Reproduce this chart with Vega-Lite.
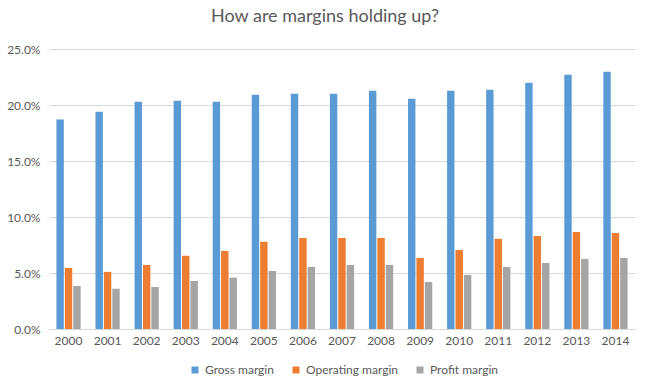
{
  "$schema": "https://vega.github.io/schema/vega-lite/v6.json",
  "width": 586,
  "height": 280,
  "autosize": "none",
  "padding": {"left": 49, "top": 49, "right": 16, "bottom": 63},
  "background": "white",
  "title": {
    "text": "How are margins holding up?",
    "font": "Lato",
    "fontSize": 18,
    "fontWeight": "normal",
    "color": "#595959",
    "anchor": "middle",
    "offset": 17,
    "dx": -17
  },
  "data": {
    "values": [
      {"year": "2000", "series": "Gross margin", "value": 0.187},
      {"year": "2000", "series": "Operating margin", "value": 0.0545},
      {"year": "2000", "series": "Profit margin", "value": 0.0384},
      {"year": "2001", "series": "Gross margin", "value": 0.194},
      {"year": "2001", "series": "Operating margin", "value": 0.051},
      {"year": "2001", "series": "Profit margin", "value": 0.036},
      {"year": "2002", "series": "Gross margin", "value": 0.203},
      {"year": "2002", "series": "Operating margin", "value": 0.0572},
      {"year": "2002", "series": "Profit margin", "value": 0.0375},
      {"year": "2003", "series": "Gross margin", "value": 0.2038},
      {"year": "2003", "series": "Operating margin", "value": 0.0653},
      {"year": "2003", "series": "Profit margin", "value": 0.0429},
      {"year": "2004", "series": "Gross margin", "value": 0.203},
      {"year": "2004", "series": "Operating margin", "value": 0.0697},
      {"year": "2004", "series": "Profit margin", "value": 0.0459},
      {"year": "2005", "series": "Gross margin", "value": 0.2092},
      {"year": "2005", "series": "Operating margin", "value": 0.0778},
      {"year": "2005", "series": "Profit margin", "value": 0.0518},
      {"year": "2006", "series": "Gross margin", "value": 0.21},
      {"year": "2006", "series": "Operating margin", "value": 0.0813},
      {"year": "2006", "series": "Profit margin", "value": 0.0554},
      {"year": "2007", "series": "Gross margin", "value": 0.21},
      {"year": "2007", "series": "Operating margin", "value": 0.0813},
      {"year": "2007", "series": "Profit margin", "value": 0.0572},
      {"year": "2008", "series": "Gross margin", "value": 0.2128},
      {"year": "2008", "series": "Operating margin", "value": 0.0813},
      {"year": "2008", "series": "Profit margin", "value": 0.0572},
      {"year": "2009", "series": "Gross margin", "value": 0.2056},
      {"year": "2009", "series": "Operating margin", "value": 0.0635},
      {"year": "2009", "series": "Profit margin", "value": 0.042},
      {"year": "2010", "series": "Gross margin", "value": 0.2128},
      {"year": "2010", "series": "Operating margin", "value": 0.0706},
      {"year": "2010", "series": "Profit margin", "value": 0.0483},
      {"year": "2011", "series": "Gross margin", "value": 0.2136},
      {"year": "2011", "series": "Operating margin", "value": 0.0805},
      {"year": "2011", "series": "Profit margin", "value": 0.0554},
      {"year": "2012", "series": "Gross margin", "value": 0.2199},
      {"year": "2012", "series": "Operating margin", "value": 0.0831},
      {"year": "2012", "series": "Profit margin", "value": 0.059},
      {"year": "2013", "series": "Gross margin", "value": 0.227},
      {"year": "2013", "series": "Operating margin", "value": 0.0867},
      {"year": "2013", "series": "Profit margin", "value": 0.0626},
      {"year": "2014", "series": "Gross margin", "value": 0.2297},
      {"year": "2014", "series": "Operating margin", "value": 0.0858},
      {"year": "2014", "series": "Profit margin", "value": 0.0635}
    ]
  },
  "mark": {"type": "bar"},
  "encoding": {
    "x": {
      "field": "year",
      "type": "nominal",
      "scale": {"paddingInner": 0.38, "paddingOuter": 0.19},
      "axis": {
        "title": null,
        "labelAngle": 0,
        "labelFont": "Lato",
        "labelFontSize": 12,
        "labelColor": "#595959",
        "labelPadding": 6,
        "ticks": false,
        "domainColor": "#d9d9d9",
        "grid": false
      }
    },
    "xOffset": {
      "field": "series",
      "type": "nominal",
      "sort": ["Gross margin", "Operating margin", "Profit margin"],
      "scale": {"paddingInner": 0.12}
    },
    "y": {
      "field": "value",
      "type": "quantitative",
      "scale": {"domain": [0, 0.25]},
      "axis": {
        "title": null,
        "format": ".1%",
        "values": [0, 0.05, 0.1, 0.15, 0.2, 0.25],
        "labelFont": "Lato",
        "labelFontSize": 12,
        "labelColor": "#595959",
        "labelPadding": 9,
        "ticks": false,
        "domain": false,
        "gridColor": "#d9d9d9",
        "gridWidth": 1
      }
    },
    "color": {
      "field": "series",
      "type": "nominal",
      "sort": ["Gross margin", "Operating margin", "Profit margin"],
      "scale": {
        "domain": ["Gross margin", "Operating margin", "Profit margin"],
        "range": ["#5B9BD5", "#ED7D31", "#A5A5A5"]
      },
      "legend": {
        "title": null,
        "orient": "none",
        "direction": "horizontal",
        "legendX": 140,
        "legendY": 315,
        "symbolType": "square",
        "symbolSize": 49,
        "symbolStrokeWidth": 0,
        "labelFont": "Lato",
        "labelFontSize": 12,
        "labelColor": "#595959",
        "labelOffset": 4,
        "columnPadding": 16
      }
    }
  },
  "config": {
    "view": {"stroke": null}
  }
}
